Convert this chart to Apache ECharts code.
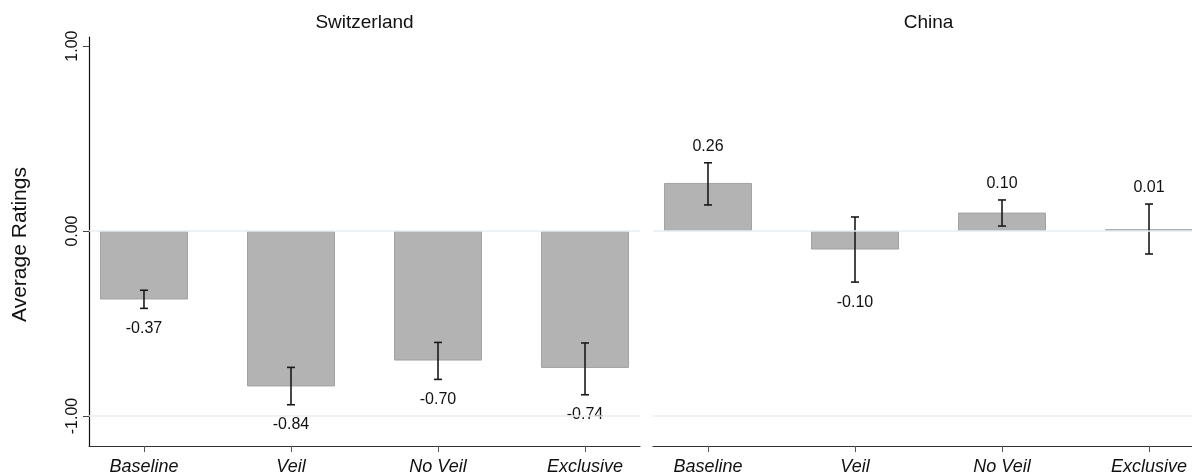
<!DOCTYPE html>
<html>
<head>
<meta charset="utf-8">
<script src="https://cdn.jsdelivr.net/npm/echarts@6/dist/echarts.min.js"></script>
<style>
html,body{margin:0;padding:0;background:#fff;}
#chart{width:1192px;height:474px;}
</style>
</head>
<body>
<div id="chart"></div>
<script>
const categories = ['Baseline', 'Veil', 'No Veil', 'Exclusive'];
const panelTitles = ['Switzerland', 'China'];
const swissMeans = [-0.37, -0.84, -0.70, -0.74];
const swissLow = [-0.418, -0.939, -0.802, -0.885];
const swissHigh = [-0.320, -0.737, -0.602, -0.605];
const chinaMeans = [0.26, -0.10, 0.10, 0.01];
const chinaLow = [0.141, -0.276, 0.027, -0.124];
const chinaHigh = [0.369, 0.076, 0.168, 0.146];
const yTicks = [-1, 0, 1];
const gridLineValues = [0, -1];
const yLabel = 'Average Ratings';

const FONT = '"Liberation Sans", Arial, Helvetica, sans-serif';
const catPos = categories.map((c, i) => i + 1);
const Y_MIN = -1.162, Y_MAX = 1.049;
const X_MIN = 0.626, X_MAX = 4.374;

function xAxisFor(idx) {
  return {
    type: 'value', gridIndex: idx, min: X_MIN, max: X_MAX,
    axisLine: { show: true, onZero: false, lineStyle: { color: '#333', width: 1.2 } },
    axisTick: { show: true, customValues: catPos, length: 6, lineStyle: { color: '#555' } },
    axisLabel: { show: true, customValues: catPos, formatter: v => categories[Math.round(v) - 1] || '',
      fontStyle: 'italic', fontSize: 18, fontFamily: FONT, color: '#111', margin: 12 },
    splitLine: { show: false }
  };
}
function yAxisFor(idx) {
  const show = idx === 0;
  return {
    type: 'value', gridIndex: idx, min: Y_MIN, max: Y_MAX,
    axisLine: { show: show, onZero: false, lineStyle: { color: '#111', width: 1.2 } },
    axisTick: { show: show, customValues: yTicks, length: 6, lineStyle: { color: '#444' } },
    axisLabel: { show: show, customValues: yTicks, rotate: 90, formatter: v => v.toFixed(2),
      fontSize: 16, fontFamily: FONT, color: '#111', margin: 8 },
    splitLine: { show: false },
    name: show ? yLabel : '', nameLocation: 'middle', nameGap: 58, nameRotate: 90,
    nameTextStyle: { fontSize: 21, fontFamily: FONT, color: '#111', padding: [0, 6, 0, 0] }
  };
}

function errRender(params, api) {
  const x = api.value(0), lo = api.value(1), hi = api.value(2), m = api.value(3);
  const pLo = api.coord([x, lo]), pHi = api.coord([x, hi]);
  const cap = 4;
  const ly = m >= 0 ? pHi[1] - 16 : pLo[1] + 20;
  const st = { stroke: '#1a1a1a', lineWidth: 1.6 };
  return {
    type: 'group', children: [
      { type: 'line', shape: { x1: pLo[0], y1: pLo[1], x2: pHi[0], y2: pHi[1] }, style: st },
      { type: 'line', shape: { x1: pLo[0] - cap, y1: pLo[1], x2: pLo[0] + cap, y2: pLo[1] }, style: st },
      { type: 'line', shape: { x1: pHi[0] - cap, y1: pHi[1], x2: pHi[0] + cap, y2: pHi[1] }, style: st },
      { type: 'text', x: pLo[0], y: ly, style: { text: m.toFixed(2), align: 'center', verticalAlign: 'middle',
        font: '16px ' + FONT, fill: '#111' } }
    ]
  };
}

function panelSeries(idx, means, low, high) {
  return [
    { type: 'line', xAxisIndex: idx, yAxisIndex: idx, data: [], z: 1, silent: true,
      markLine: { silent: true, symbol: 'none', label: { show: false },
        lineStyle: { color: '#e8eef2', width: 1.5, type: 'solid' },
        data: gridLineValues.map(v => ({ yAxis: v })) } },
    { type: 'bar', xAxisIndex: idx, yAxisIndex: idx, z: 2, barWidth: 88,
      data: means.map((v, i) => [catPos[i], v]),
      itemStyle: { color: '#b3b3b3', borderColor: '#a2a2a2', borderWidth: 1 } },
    { type: 'custom', xAxisIndex: idx, yAxisIndex: idx, z: 3, renderItem: errRender, clip: false,
      data: means.map((v, i) => [catPos[i], low[i], high[i], v]) }
  ];
}

const chart = echarts.init(document.getElementById('chart'), null, { renderer: 'canvas' });
chart.setOption({
  backgroundColor: '#fff',
  animation: false,
  grid: [
    { left: 89, top: 37, width: 551, height: 409, outerBoundsMode: 'none', containLabel: false },
    { left: 653, top: 37, width: 551, height: 409, outerBoundsMode: 'none', containLabel: false }
  ],
  xAxis: [xAxisFor(0), xAxisFor(1)],
  yAxis: [yAxisFor(0), yAxisFor(1)],
  graphic: [
    { type: 'text', x: 364.5, y: 23, style: { text: panelTitles[0], align: 'center', verticalAlign: 'middle', font: '19px ' + FONT, fill: '#111' } },
    { type: 'text', x: 928.5, y: 23, style: { text: panelTitles[1], align: 'center', verticalAlign: 'middle', font: '19px ' + FONT, fill: '#111' } }
  ],
  series: [].concat(
    panelSeries(0, swissMeans, swissLow, swissHigh),
    panelSeries(1, chinaMeans, chinaLow, chinaHigh)
  )
});
</script>
</body>
</html>
